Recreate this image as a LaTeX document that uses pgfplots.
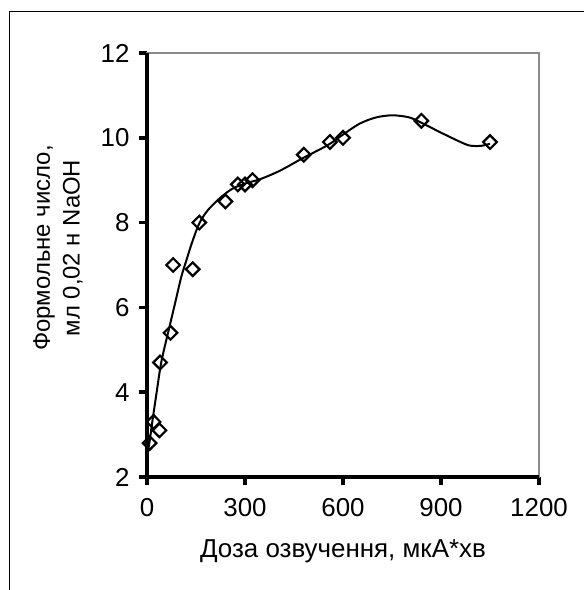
\documentclass[border=0pt]{standalone}
\usepackage{fontspec}
\setmainfont{Liberation Sans}
\usepackage{pgfplots}
\pgfplotsset{compat=1.18}
\begin{document}
\begin{tikzpicture}[x=1bp,y=1bp]
\useasboundingbox (-147,-113) rectangle (437,477);
\draw[line width=1.3bp] (-137.5,-113) -- (-137.5,465.5) -- (437,465.5);
\begin{axis}[
  at={(0,0)}, anchor=south west,
  scale only axis, width=392bp, height=424bp,
  xmin=0, xmax=1200, ymin=2, ymax=12,
  xtick={0,300,600,900,1200}, ytick={2,4,6,8,10,12},
  axis line style={draw=gray!90, line width=2.2bp},
  tick align=outside, xtick pos=bottom, ytick pos=left,
  major tick length=8bp,
  every tick/.style={black, line width=3.5bp},
  tick label style={font=\fontsize{26}{31}\selectfont},
  /pgf/number format/assume math mode=true,
  /pgf/number format/1000 sep={},
  yticklabel style={xshift=-6bp},
  xticklabel style={yshift=-10bp},
  xlabel={Доза озвучення, мкА*хв},
  xlabel style={font=\fontsize{26}{31}\selectfont, at={(axis description cs:0.5,0)}, anchor=center, yshift=-74bp},
  ylabel={Формольне число,\\мл 0,02 н NaOH},
  ylabel style={font=\fontsize{24}{30}\selectfont, align=center, at={(axis description cs:-0.227,0.54)}, anchor=center},
  clip=false,
]
\addplot[black, line width=2bp, smooth, no markers] coordinates {
(0,2.5) (7,2.79) (17,3.34) (29,3.97) (44,4.72) (66,5.45) (86,6.1) (105,6.72)
(121,7.12) (137,7.51) (160,7.98) (187,8.3) (228,8.61) (264,8.81) (304,8.93)
(345,9.02) (406,9.22) (477,9.52) (554,9.83) (599,10.07) (650,10.33) (701,10.48)
(752,10.53) (803,10.48) (844,10.34) (895,10.14) (946,9.95) (986,9.82) (1022,9.81) (1050,9.86)
};
\addplot[only marks, mark=diamond, mark size=6.8bp, mark options={black, line width=2.2bp, fill=none, xscale=1.33}] coordinates {
(8,2.8) (20,3.3) (38,3.1) (40,4.7) (72,5.4) (80,7.0) (140,6.9) (160,8.0)
(240,8.5) (278,8.9) (300,8.9) (323,9.0) (480,9.6) (560,9.9) (600,10.0)
(840,10.4) (1050,9.9)
};
\draw[black, line width=3.5bp] (rel axis cs:0,1) -- (rel axis cs:0,0) -- (rel axis cs:1,0);
\end{axis}
\end{tikzpicture}
\end{document}
